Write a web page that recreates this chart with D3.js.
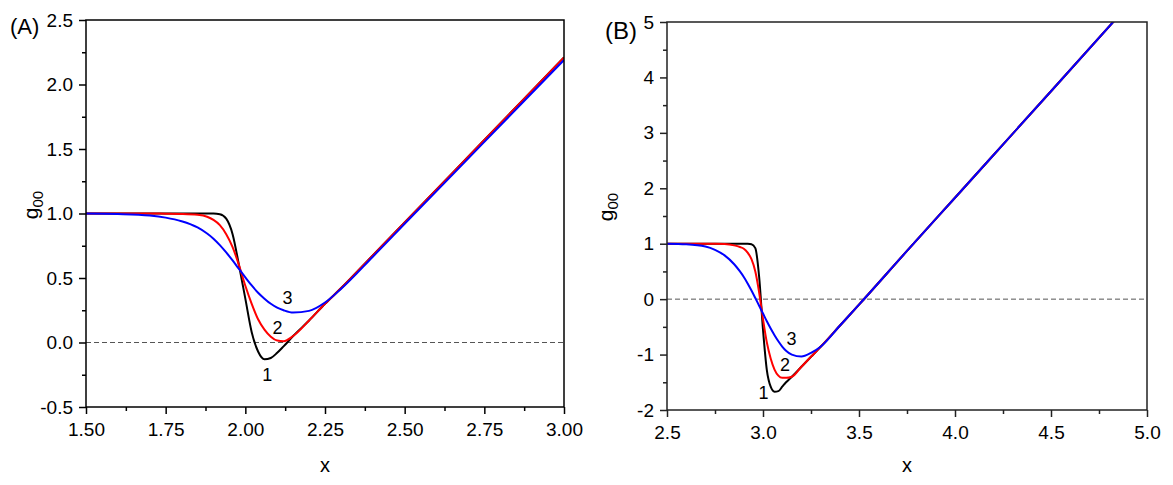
<!DOCTYPE html>
<html>
<head>
  <meta charset="utf-8">
  <title>g00 vs x</title>
  <script src="https://d3js.org/d3.v7.min.js"></script>
  <style>
    * { margin: 0; box-sizing: border-box; }
    body { background: #fff; }
    svg text { font-family: "Liberation Sans", Arial, sans-serif; fill: #000; }
    .curve { fill: none; stroke-width: 2px; }
    .zero { stroke: #555; stroke-width: 1px; stroke-dasharray: 5,3; }
  </style>
</head>
<body>
  <svg id="chart" width="1173" height="485"></svg>
  <script>
    // ---- panel A data ----
    const xA = [1.50, 1.60, 1.70, 1.75, 1.80, 1.85, 1.88, 1.90, 1.92, 1.94, 1.96, 1.98, 2.00,
                2.02, 2.04, 2.06, 2.08, 2.10, 2.12, 2.15, 2.20, 2.25, 2.30, 2.40, 2.50, 2.75, 3.00];
    const a1 = [1.00, 1.00, 1.00, 1.00, 1.00, 1.00, 1.00, 1.00, 0.995, 0.96, 0.84, 0.60, 0.34,
                0.08, -0.07, -0.13, -0.12, -0.08, -0.03, 0.05, 0.17, 0.30, 0.42, 0.675, 0.93, 1.57, 2.21];
    const a2 = [1.00, 1.00, 1.00, 0.999, 0.997, 0.99, 0.975, 0.95, 0.91, 0.84, 0.74, 0.60, 0.44,
                0.30, 0.18, 0.10, 0.045, 0.015, 0.01, 0.05, 0.17, 0.30, 0.42, 0.675, 0.93, 1.57, 2.21];
    const a3 = [1.00, 0.996, 0.984, 0.968, 0.94, 0.892, 0.845, 0.805, 0.755, 0.698, 0.636, 0.570, 0.505,
                0.442, 0.386, 0.34, 0.30, 0.27, 0.25, 0.232, 0.245, 0.31, 0.415, 0.665, 0.92, 1.555, 2.19];
    const labelsA = [["1", 2.069, -0.252], ["2", 2.101, 0.110], ["3", 2.132, 0.343]];
    const xTicksA = [1.50, 1.75, 2.00, 2.25, 2.50, 2.75, 3.00];
    const yTicksA = [-0.5, 0.0, 0.5, 1.0, 1.5, 2.0, 2.5];

    // ---- panel B data ----
    const xB = [2.50, 2.60, 2.70, 2.75, 2.80, 2.85, 2.88, 2.90, 2.92, 2.94, 2.96, 2.98, 3.00,
                3.02, 3.04, 3.06, 3.08, 3.10, 3.12, 3.15, 3.20, 3.25, 3.30, 3.40, 3.50, 3.75, 4.00, 4.50, 5.00];
    const b1 = [1.00, 1.00, 1.00, 1.00, 1.00, 1.00, 1.00, 1.00, 0.998, 0.99, 0.92, 0.40, -0.55,
                -1.28, -1.58, -1.67, -1.66, -1.58, -1.50, -1.40, -1.22, -1.04, -0.86, -0.48, -0.10, 0.87, 1.83, 3.75, 5.68];
    const b2 = [1.00, 1.00, 1.00, 0.999, 0.995, 0.97, 0.94, 0.91, 0.84, 0.72, 0.50, 0.12, -0.36,
                -0.78, -1.07, -1.27, -1.38, -1.42, -1.42, -1.40, -1.22, -1.04, -0.86, -0.48, -0.10, 0.87, 1.83, 3.75, 5.68];
    const b3 = [1.00, 0.99, 0.95, 0.89, 0.79, 0.63, 0.50, 0.40, 0.284, 0.156, 0.02, -0.12, -0.26,
                -0.40, -0.53, -0.65, -0.76, -0.855, -0.93, -1.00, -1.035, -0.97, -0.86, -0.48, -0.10, 0.87, 1.83, 3.75, 5.68];
    const labelsB = [["1", 3.002, -1.688], ["2", 3.115, -1.188], ["3", 3.149, -0.719]];
    const xTicksB = [2.5, 3.0, 3.5, 4.0, 4.5, 5.0];
    const yTicksB = [-2, -1, 0, 1, 2, 3, 4, 5];

    const colors = ["#000000", "#ff0000", "#0000ff"];
    const loc = d3.formatLocale({ decimal: ".", thousands: ",", grouping: [3], currency: ["", ""], minus: "-" });
    const svg = d3.select("#chart");

    function drawPanel(p) {
      const g = svg.append("g");
      const x = d3.scaleLinear().domain(p.xDomain).range([p.left, p.right]);
      const y = d3.scaleLinear().domain(p.yDomain).range([p.bottom, p.top]);

      const clipId = "clip" + p.name;
      svg.append("clipPath").attr("id", clipId).append("rect")
        .attr("x", p.left).attr("y", p.top)
        .attr("width", p.right - p.left).attr("height", p.bottom - p.top);

      // zero line
      g.append("line").attr("class", "zero")
        .attr("x1", p.left).attr("x2", p.right)
        .attr("y1", y(0)).attr("y2", y(0));

      const line = d3.line().x(d => x(d[0])).y(d => y(d[1])).curve(d3.curveMonotoneX);
      p.series.forEach((s, i) => {
        g.append("path").attr("class", "curve")
          .attr("clip-path", `url(#${clipId})`)
          .attr("stroke", colors[i])
          .attr("d", line(p.xs.map((v, j) => [v, s[j]])));
      });

      // frame
      g.append("rect").attr("x", p.left).attr("y", p.top)
        .attr("width", p.right - p.left).attr("height", p.bottom - p.top)
        .attr("fill", "none").attr("stroke", p.axisColor).attr("stroke-width", 1.5);

      // minor ticks
      const xMinor = d3.axisBottom(x).tickValues(p.xMinor).tickSize(4).tickSizeOuter(0).tickFormat("");
      const yMinor = d3.axisLeft(y).tickValues(p.yMinor).tickSize(4).tickSizeOuter(0).tickFormat("");
      g.append("g").attr("transform", `translate(0,${p.bottom})`).call(xMinor);
      g.append("g").attr("transform", `translate(${p.left},0)`).call(yMinor);

      const xAxis = d3.axisBottom(x).tickValues(p.xTicks).tickSize(7).tickSizeOuter(0).tickPadding(9)
        .tickFormat(loc.format(p.xFmt));
      const yAxis = d3.axisLeft(y).tickValues(p.yTicks).tickSize(7).tickSizeOuter(0).tickPadding(6)
        .tickFormat(loc.format(p.yFmt));
      g.append("g").attr("transform", `translate(0,${p.bottom})`).call(xAxis);
      g.append("g").attr("transform", `translate(${p.left},0)`).call(yAxis);

      g.selectAll(".domain").remove();
      g.selectAll(".tick line").attr("stroke", p.axisColor).attr("stroke-width", 1.5);
      g.selectAll(".tick text").attr("font-size", 19).attr("font-family", "Liberation Sans, Arial, sans-serif");

      // curve labels
      p.labels.forEach(l => {
        g.append("text").attr("x", x(l[1])).attr("y", y(l[2]))
          .attr("text-anchor", "middle").attr("dominant-baseline", "central")
          .attr("font-size", 18).text(l[0]);
      });

      // axis titles
      g.append("text").attr("x", (p.left + p.right) / 2).attr("y", 472)
        .attr("text-anchor", "middle").attr("font-size", 20).text("x");
      const yl = g.append("text")
        .attr("transform", `translate(${p.yLabelX},${p.yLabelY}) rotate(-90)`)
        .attr("text-anchor", "middle").attr("font-size", 21);
      yl.append("tspan").text("g");
      yl.append("tspan").attr("font-size", 15).attr("dy", 5).text("00");

      g.append("text").attr("x", p.tagX).attr("y", p.tagY).attr("font-size", p.tagSize).text(p.tag);
    }

    drawPanel({
      name: "A", xs: xA, series: [a1, a2, a3], labels: labelsA,
      xDomain: [1.5, 3.0], yDomain: [-0.5, 2.5],
      left: 86, right: 564, top: 20, bottom: 407,
      xTicks: xTicksA, yTicks: yTicksA,
      xMinor: d3.range(1.625, 3.0, 0.25), yMinor: d3.range(-0.25, 2.5, 0.5),
      xFmt: ".2f", yFmt: ".1f", axisColor: "#000",
      yLabelX: 38, yLabelY: 205, tag: "(A)", tagX: 10, tagY: 34, tagSize: 22
    });

    drawPanel({
      name: "B", xs: xB, series: [b1, b2, b3], labels: labelsB,
      xDomain: [2.5, 5.0], yDomain: [-2, 5],
      left: 667, right: 1147, top: 22, bottom: 410,
      xTicks: xTicksB, yTicks: yTicksB,
      xMinor: d3.range(2.75, 5.0, 0.5), yMinor: d3.range(-1.5, 5, 1),
      xFmt: ".1f", yFmt: "d", axisColor: "#222",
      yLabelX: 613, yLabelY: 207, tag: "(B)", tagX: 605, tagY: 39, tagSize: 24
    });
  </script>
</body>
</html>
